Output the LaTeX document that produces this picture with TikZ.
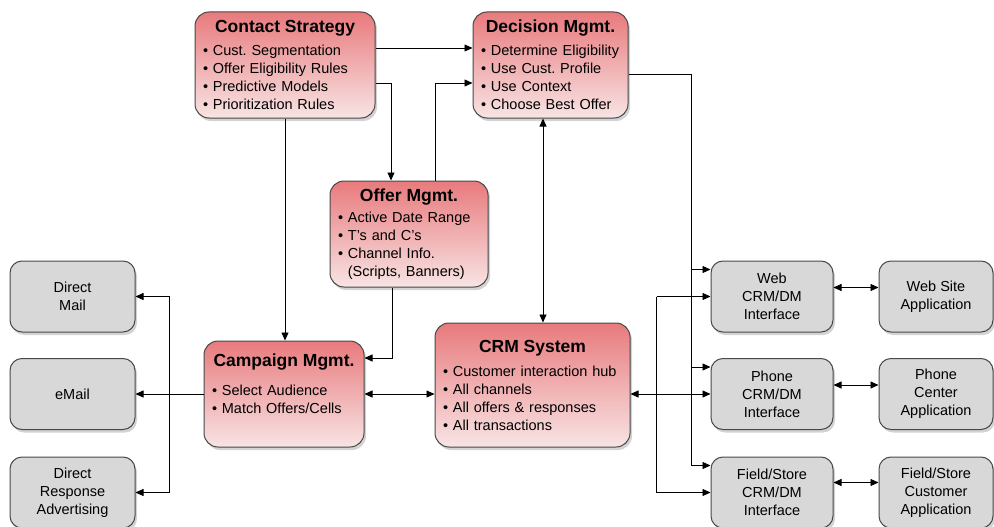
\documentclass[tikz,border=0pt]{standalone}
\usepackage{fontspec}
\setmainfont{Liberation Sans}
\usepackage{tikz}
\usetikzlibrary{shapes,arrows.meta,shadows,positioning,calc}
\definecolor{redtop}{RGB}{232,122,125}
\definecolor{redbot}{RGB}{248,228,228}
\definecolor{greyfill}{RGB}{216,216,216}
\definecolor{edgegrey}{RGB}{72,72,72}
\newcommand{\boxhead}[2][5pt]{{\centering\fontsize{17.5}{20}\selectfont\bfseries #2\par}\vspace{#1}}
\frenchspacing

\begin{document}
\begin{tikzpicture}[x=1pt,y=-1pt]
\tikzstyle{every node}=[font=\fontsize{14.5}{18}\selectfont]
\tikzstyle{redbox}=[draw=edgegrey, line width=1pt, rounded corners=14pt, top color=redtop, bottom color=redbot, drop shadow={shadow xshift=2pt, shadow yshift=-3pt, opacity=0.35}, align=left, inner xsep=8pt, inner ysep=0pt, minimum height=106pt]
\tikzstyle{greybox}=[draw=edgegrey, line width=1pt, rounded corners=12pt, fill=greyfill, drop shadow={shadow xshift=2pt, shadow yshift=-3pt, opacity=0.35}, align=center, inner sep=0pt, minimum height=71pt]
\tikzstyle{link}=[-{Triangle[length=8pt,width=7pt]}, line width=0.8pt]
\tikzstyle{both}=[{Triangle[length=8pt,width=7pt]}-{Triangle[length=8pt,width=7pt]}, line width=0.8pt]
\useasboundingbox (0,0) rectangle (994,527);

% red boxes
\node[redbox, text width=164pt] (cs) at (285,65) {\boxhead{Contact Strategy}\textbullet{} Cust. Segmentation\\ \textbullet{} Offer Eligibility Rules\\ \textbullet{} Predictive Models\\ \textbullet{} Prioritization Rules};
\node[redbox, text width=139pt] (dm) at (550.5,65) {\boxhead{Decision Mgmt.}\textbullet{} Determine Eligibility\\ \textbullet{} Use Cust. Profile\\ \textbullet{} Use Context\\ \textbullet{} Choose Best Offer};
\node[redbox, text width=142pt] (om) at (409,234) {\boxhead[3pt]{Offer Mgmt.}\textbullet{} Active Date Range\\ \textbullet{} T's and C's\\ \textbullet{} Channel Info.\\ \phantom{\textbullet{} }(Scripts, Banners)};
\node[redbox, text width=144pt] (cm) at (284,394) {\boxhead[11pt]{Campaign Mgmt.}\textbullet{} Select Audience\\ \textbullet{} Match Offers/Cells\\[2pt]\mbox{}};
\node[redbox, text width=179pt, minimum height=124pt] (crm) at (532.5,385) {\boxhead[6pt]{CRM System}\textbullet{} Customer interaction hub\\ \textbullet{} All channels\\ \textbullet{} All offers \& responses\\ \textbullet{} All transactions};

% grey boxes
\node[greybox, minimum width=125pt] (dmail) at (72.5,296.5) {Direct\\Mail};
\node[greybox, minimum width=125pt] (email) at (72.5,394) {eMail};
\node[greybox, minimum width=125pt] (dra) at (72.5,492.5) {Direct\\Response\\Advertising};
\node[greybox, minimum width=122pt] (web) at (772,296.5) {Web\\CRM/DM\\Interface};
\node[greybox, minimum width=122pt] (phone) at (772,394) {Phone\\CRM/DM\\Interface};
\node[greybox, minimum width=122pt] (field) at (772,492.5) {Field/Store\\CRM/DM\\Interface};
\node[greybox, minimum width=114pt] (webapp) at (936,296.5) {Web Site\\Application};
\node[greybox, minimum width=114pt] (phoneapp) at (936,394) {Phone\\Center\\Application};
\node[greybox, minimum width=114pt] (fieldapp) at (936,492.5) {Field/Store\\Customer\\Application};

% top part
\draw[link] ([yshift=17pt]cs.east) -- ([yshift=17pt]cs.east -| dm.west);
\draw[link] ([yshift=-18pt]cs.east) -| ([xshift=-18pt]om.north);
\draw[link] ([xshift=26pt]om.north) |- ([yshift=-18pt]dm.west);
\draw[both] ([xshift=10.5pt]crm.north) -- ([xshift=10.5pt]crm.north |- dm.south);
\draw[link] (cs.south) -- (cs.south |- cm.north);
\draw[link] ([xshift=-17pt]om.south) |- ([yshift=36pt]cm.east);

% campaign to channels
\coordinate (lbus) at ($(email.east)!0.5!(cm.west)$);
\draw[link] (cm.west) -- (email.east);
\draw (lbus |- dmail.east) -- (lbus |- dra.east);
\foreach \n in {dmail,dra}
  \draw[link] (lbus |- \n.east) -- (\n.east);
\draw[both] (cm.east) -- (cm.east -| crm.west);

% decision mgmt to interfaces
\draw ([yshift=-9pt]dm.east) -| ([xshift=-19pt,yshift=27pt]field.west);
\foreach \n in {web,phone,field}
  \draw[link] ([xshift=-19pt,yshift=27pt]\n.west) -- ([yshift=27pt]\n.west);

% crm to interfaces
\draw[both] (phone.west -| crm.east) -- (phone.west);
\draw ([xshift=-54pt]web.west) -- ([xshift=-54pt]field.west);
\foreach \n in {web,field}
  \draw[link] ([xshift=-54pt]\n.west) -- (\n.west);

% interfaces to applications
\draw[both] ([yshift=9pt]web.east) -- ([yshift=9pt]web.east -| webapp.west);
\draw[both] ([yshift=9pt]phone.east) -- ([yshift=9pt]phone.east -| phoneapp.west);
\draw[both] ([yshift=10pt]field.east) -- ([yshift=10pt]field.east -| fieldapp.west);
\end{tikzpicture}
\end{document}
